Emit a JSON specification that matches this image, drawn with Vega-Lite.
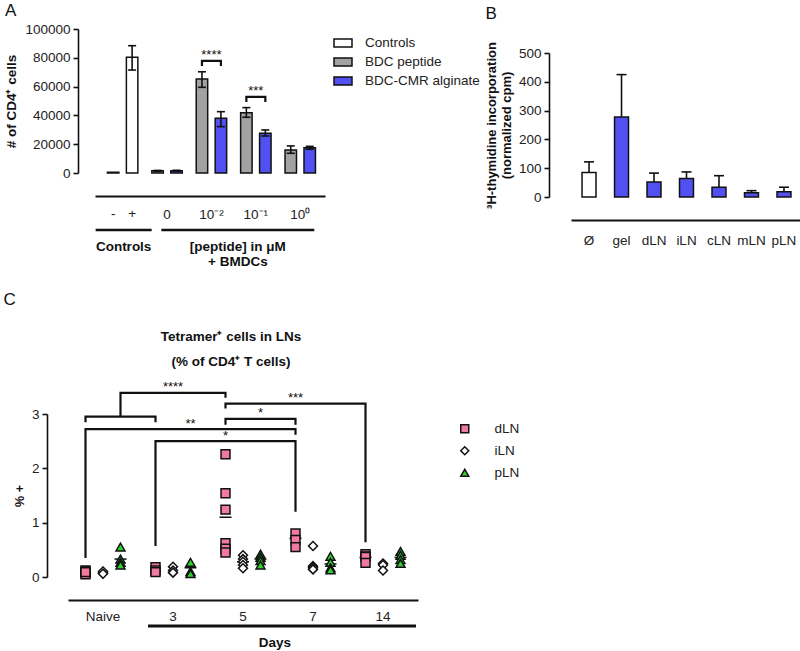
{
  "$schema": "https://vega.github.io/schema/vega-lite/v6.json",
  "padding": {"left": 3, "top": 2, "right": 0, "bottom": 0},
  "background": "white",
  "datasets": {
    "a_bars": [
      {"group": "Controls", "sub": "a", "series": "Controls", "value": 500, "lo": null, "hi": null},
      {"group": "Controls", "sub": "b", "series": "Controls", "value": 80300, "lo": 71500, "hi": 88400},
      {"group": "0", "sub": "a", "series": "BDC peptide", "value": 1500, "lo": 1200, "hi": 1800},
      {"group": "0", "sub": "b", "series": "BDC-CMR alginate", "value": 1600, "lo": 1300, "hi": 1900},
      {"group": "10⁻²", "sub": "a", "series": "BDC peptide", "value": 65300, "lo": 59500, "hi": 70300},
      {"group": "10⁻²", "sub": "b", "series": "BDC-CMR alginate", "value": 38000, "lo": 32200, "hi": 42600},
      {"group": "10⁻¹", "sub": "a", "series": "BDC peptide", "value": 41900, "lo": 38700, "hi": 45400},
      {"group": "10⁻¹", "sub": "b", "series": "BDC-CMR alginate", "value": 27600, "lo": 25700, "hi": 29900},
      {"group": "10⁰", "sub": "a", "series": "BDC peptide", "value": 16000, "lo": 13700, "hi": 18800},
      {"group": "10⁰", "sub": "b", "series": "BDC-CMR alginate", "value": 17500, "lo": 16500, "hi": 18500}
    ],
    "a_brk": [
      {"b": "b1", "ord": 0, "group": "10⁻²", "sub": "a", "y": 74300},
      {"b": "b1", "ord": 1, "group": "10⁻²", "sub": "a", "y": 77800},
      {"b": "b1", "ord": 2, "group": "10⁻²", "sub": "b", "y": 77800},
      {"b": "b1", "ord": 3, "group": "10⁻²", "sub": "b", "y": 74300},
      {"b": "b2", "ord": 0, "group": "10⁻¹", "sub": "a", "y": 49300},
      {"b": "b2", "ord": 1, "group": "10⁻¹", "sub": "a", "y": 52800},
      {"b": "b2", "ord": 2, "group": "10⁻¹", "sub": "b", "y": 52800},
      {"b": "b2", "ord": 3, "group": "10⁻¹", "sub": "b", "y": 49300}
    ],
    "a_stars": [
      {"group": "10⁻²", "t": "****", "y": 79000},
      {"group": "10⁻¹", "t": "***", "y": 54100}
    ],
    "a_pm": [
      {"group": "Controls", "sub": "a", "t": "-"},
      {"group": "Controls", "sub": "b", "t": "+"}
    ],
    "a_ctrl": [{"group": "Controls", "t": "Controls"}],
    "a_pep": [{"group": "10⁻¹", "t": "[peptide] in μM\n+ BMDCs"}],
    "b_bars": [
      {"cat": "Ø", "kind": "none", "value": 85, "hi": 122},
      {"cat": "gel", "kind": "gel", "value": 278, "hi": 425},
      {"cat": "dLN", "kind": "gel", "value": 52, "hi": 83},
      {"cat": "iLN", "kind": "gel", "value": 64, "hi": 87},
      {"cat": "cLN", "kind": "gel", "value": 34, "hi": 74},
      {"cat": "mLN", "kind": "gel", "value": 15, "hi": 22},
      {"cat": "pLN", "kind": "gel", "value": 18, "hi": 34}
    ],
    "c_pts": [
      {"day": "Naive", "ln": "dLN", "v": 0.08}, {"day": "Naive", "ln": "dLN", "v": 0.05}, {"day": "Naive", "ln": "dLN", "v": 0.12}, {"day": "Naive", "ln": "dLN", "v": 0.10}, {"day": "Naive", "ln": "dLN", "v": 0.09},
      {"day": "Naive", "ln": "iLN", "v": 0.09}, {"day": "Naive", "ln": "iLN", "v": 0.07}, {"day": "Naive", "ln": "iLN", "v": 0.10}, {"day": "Naive", "ln": "iLN", "v": 0.06},
      {"day": "Naive", "ln": "pLN", "v": 0.55}, {"day": "Naive", "ln": "pLN", "v": 0.33}, {"day": "Naive", "ln": "pLN", "v": 0.27}, {"day": "Naive", "ln": "pLN", "v": 0.22},
      {"day": "3", "ln": "dLN", "v": 0.18}, {"day": "3", "ln": "dLN", "v": 0.12}, {"day": "3", "ln": "dLN", "v": 0.09},
      {"day": "3", "ln": "iLN", "v": 0.19}, {"day": "3", "ln": "iLN", "v": 0.12}, {"day": "3", "ln": "iLN", "v": 0.08},
      {"day": "3", "ln": "pLN", "v": 0.27}, {"day": "3", "ln": "pLN", "v": 0.10}, {"day": "3", "ln": "pLN", "v": 0.06},
      {"day": "5", "ln": "dLN", "v": 2.26}, {"day": "5", "ln": "dLN", "v": 1.54}, {"day": "5", "ln": "dLN", "v": 1.24}, {"day": "5", "ln": "dLN", "v": 0.62}, {"day": "5", "ln": "dLN", "v": 0.52}, {"day": "5", "ln": "dLN", "v": 0.45},
      {"day": "5", "ln": "iLN", "v": 0.40}, {"day": "5", "ln": "iLN", "v": 0.33}, {"day": "5", "ln": "iLN", "v": 0.28}, {"day": "5", "ln": "iLN", "v": 0.22}, {"day": "5", "ln": "iLN", "v": 0.16},
      {"day": "5", "ln": "pLN", "v": 0.42}, {"day": "5", "ln": "pLN", "v": 0.36}, {"day": "5", "ln": "pLN", "v": 0.30}, {"day": "5", "ln": "pLN", "v": 0.22},
      {"day": "7", "ln": "dLN", "v": 0.80}, {"day": "7", "ln": "dLN", "v": 0.68}, {"day": "7", "ln": "dLN", "v": 0.55},
      {"day": "7", "ln": "iLN", "v": 0.57}, {"day": "7", "ln": "iLN", "v": 0.20}, {"day": "7", "ln": "iLN", "v": 0.17}, {"day": "7", "ln": "iLN", "v": 0.14},
      {"day": "7", "ln": "pLN", "v": 0.38}, {"day": "7", "ln": "pLN", "v": 0.27}, {"day": "7", "ln": "pLN", "v": 0.17}, {"day": "7", "ln": "pLN", "v": 0.13},
      {"day": "14", "ln": "dLN", "v": 0.42}, {"day": "14", "ln": "dLN", "v": 0.38}, {"day": "14", "ln": "dLN", "v": 0.37}, {"day": "14", "ln": "dLN", "v": 0.26},
      {"day": "14", "ln": "iLN", "v": 0.25}, {"day": "14", "ln": "iLN", "v": 0.22}, {"day": "14", "ln": "iLN", "v": 0.12},
      {"day": "14", "ln": "pLN", "v": 0.47}, {"day": "14", "ln": "pLN", "v": 0.40}, {"day": "14", "ln": "pLN", "v": 0.32}, {"day": "14", "ln": "pLN", "v": 0.25}
    ],
    "c_means": [
      {"day": "Naive", "ln": "pLN", "m": 0.33},
      {"day": "3", "ln": "pLN", "m": 0.17},
      {"day": "5", "ln": "dLN", "m": 1.1}, {"day": "5", "ln": "iLN", "m": 0.28}, {"day": "5", "ln": "pLN", "m": 0.33},
      {"day": "7", "ln": "dLN", "m": 0.71}, {"day": "7", "ln": "pLN", "m": 0.24},
      {"day": "14", "ln": "dLN", "m": 0.36}, {"day": "14", "ln": "pLN", "m": 0.36}
    ],
    "c_brk": [
      {"b": "b1", "ord": 0, "day": "Naive", "ln": "dLN", "y": 2.85},
      {"b": "b1", "ord": 1, "day": "Naive", "ln": "dLN", "y": 2.95},
      {"b": "b1", "ord": 2, "day": "3", "ln": "dLN", "y": 2.95},
      {"b": "b1", "ord": 3, "day": "3", "ln": "dLN", "y": 2.85},
      {"b": "b2", "ord": 0, "day": "Naive", "ln": "pLN", "y": 2.95},
      {"b": "b2", "ord": 1, "day": "Naive", "ln": "pLN", "y": 3.39},
      {"b": "b2", "ord": 2, "day": "5", "ln": "dLN", "y": 3.39},
      {"b": "b2", "ord": 3, "day": "5", "ln": "dLN", "y": 3.30},
      {"b": "b3", "ord": 0, "day": "5", "ln": "dLN", "y": 3.10},
      {"b": "b3", "ord": 1, "day": "5", "ln": "dLN", "y": 3.19},
      {"b": "b3", "ord": 2, "day": "14", "ln": "dLN", "y": 3.19},
      {"b": "b3", "ord": 3, "day": "14", "ln": "dLN", "y": 0.64},
      {"b": "b4", "ord": 0, "day": "5", "ln": "dLN", "y": 2.80},
      {"b": "b4", "ord": 1, "day": "5", "ln": "dLN", "y": 2.91},
      {"b": "b4", "ord": 2, "day": "7", "ln": "dLN", "y": 2.91},
      {"b": "b4", "ord": 3, "day": "7", "ln": "dLN", "y": 2.80},
      {"b": "b5", "ord": 0, "day": "Naive", "ln": "dLN", "y": 0.35},
      {"b": "b5", "ord": 1, "day": "Naive", "ln": "dLN", "y": 2.72},
      {"b": "b5", "ord": 2, "day": "7", "ln": "dLN", "y": 2.72},
      {"b": "b5", "ord": 3, "day": "7", "ln": "dLN", "y": 2.62},
      {"b": "b6", "ord": 0, "day": "3", "ln": "dLN", "y": 0.57},
      {"b": "b6", "ord": 1, "day": "3", "ln": "dLN", "y": 2.50},
      {"b": "b6", "ord": 2, "day": "7", "ln": "dLN", "y": 2.50},
      {"b": "b6", "ord": 3, "day": "7", "ln": "dLN", "y": 1.20}
    ],
    "c_stars": [
      {"t": "****", "day": "3", "ln": "iLN", "y": 3.42},
      {"t": "***", "day": "7", "ln": "dLN", "y": 3.22},
      {"t": "*", "day": "5", "ln": "pLN", "y": 2.94},
      {"t": "**", "day": "3", "ln": "pLN", "y": 2.75},
      {"t": "*", "day": "5", "ln": "dLN", "y": 2.53}
    ],
    "c_head": [{"day": "5", "t": "Tetramer⁺ cells in LNs\n(% of CD4⁺ T cells)"}],
    "c_days": [{"day": "7", "t": "Days"}]
  },
  "concat": [
    {
      "concat": [
        {
          "title": {"text": "A", "anchor": "start", "frame": "bounds", "fontSize": 17, "fontWeight": "normal", "offset": 2},
          "width": 247,
          "height": 144,
          "layer": [
            {
              "data": {"name": "a_bars"},
              "mark": {"type": "bar", "stroke": "#111111", "strokeWidth": 1.5},
              "encoding": {
                "x": {"field": "group", "type": "nominal", "sort": null,
                  "scale": {"domain": ["Controls", "0", "10⁻²", "10⁻¹", "10⁰"], "range": [17, 247], "paddingInner": 0.144, "paddingOuter": 0.162, "align": 0.6},
                  "axis": {"offset": 23, "ticks": false, "domainWidth": 2.2, "labelPadding": 11, "labelAngle": 0, "title": null,
                    "labelExpr": "datum.value === 'Controls' ? '' : datum.label"}},
                "xOffset": {"field": "sub", "type": "nominal", "scale": {"domain": ["a", "b"], "paddingInner": 0.395, "paddingOuter": 0.2}},
                "y": {"field": "value", "type": "quantitative", "scale": {"domain": [0, 100000], "nice": false},
                  "axis": {"tickCount": 10, "values": [0, 20000, 40000, 60000, 80000, 100000], "format": "d", "labelOverlap": false, "offset": 0, "title": "# of CD4⁺ cells", "titlePadding": 6, "labelPadding": 3}},
                "fill": {"field": "series", "type": "nominal",
                  "scale": {"domain": ["Controls", "BDC peptide", "BDC-CMR alginate"], "range": ["#ffffff", "#a2a2a2", "#5151f2"]},
                  "legend": {"title": null, "orient": "right", "offset": 4, "symbolType": "M-1,-0.45H1V0.45H-1Z", "symbolSize": 324,
                    "symbolStrokeColor": "#111111", "symbolStrokeWidth": 1.5, "labelFontSize": 13.5, "rowPadding": 1, "labelOffset": 12, "padding": 4}}
              }
            },
            {
              "data": {"name": "a_bars"},
              "mark": {"type": "rule", "color": "#111111", "strokeWidth": 1.6},
              "encoding": {
                "x": {"field": "group", "type": "nominal"},
                "xOffset": {"field": "sub", "type": "nominal"},
                "y": {"field": "lo", "type": "quantitative"},
                "y2": {"field": "hi"}
              }
            },
            {
              "data": {"name": "a_bars"},
              "mark": {"type": "tick", "orient": "horizontal", "size": 8, "thickness": 1.6, "color": "#111111", "opacity": 1},
              "encoding": {
                "x": {"field": "group", "type": "nominal"},
                "xOffset": {"field": "sub", "type": "nominal"},
                "y": {"field": "lo", "type": "quantitative"}
              }
            },
            {
              "data": {"name": "a_bars"},
              "mark": {"type": "tick", "orient": "horizontal", "size": 8, "thickness": 1.6, "color": "#111111", "opacity": 1},
              "encoding": {
                "x": {"field": "group", "type": "nominal"},
                "xOffset": {"field": "sub", "type": "nominal"},
                "y": {"field": "hi", "type": "quantitative"}
              }
            },
            {
              "data": {"name": "a_brk"},
              "mark": {"type": "line", "color": "#111111", "strokeWidth": 2.2, "strokeJoin": "miter"},
              "encoding": {
                "x": {"field": "group", "type": "nominal"},
                "xOffset": {"field": "sub", "type": "nominal"},
                "y": {"field": "y", "type": "quantitative"},
                "detail": {"field": "b"},
                "order": {"field": "ord", "type": "quantitative"}
              }
            },
            {
              "data": {"name": "a_stars"},
              "mark": {"type": "text", "fontSize": 13, "color": "#111111", "baseline": "alphabetic"},
              "encoding": {
                "x": {"field": "group", "type": "nominal"},
                "y": {"field": "y", "type": "quantitative"},
                "text": {"field": "t"}
              }
            },
            {
              "data": {"name": "a_pm"},
              "mark": {"type": "text", "fontSize": 13.5, "color": "#222222", "baseline": "middle"},
              "encoding": {
                "x": {"field": "group", "type": "nominal"},
                "xOffset": {"field": "sub", "type": "nominal"},
                "y": {"datum": -28500, "type": "quantitative"},
                "text": {"field": "t"}
              }
            },
            {
              "data": {"name": "a_ctrl"},
              "mark": {"type": "tick", "orient": "horizontal", "size": 56, "thickness": 2.5, "color": "#111111", "opacity": 1, "xOffset": 1},
              "encoding": {
                "x": {"field": "group", "type": "nominal"},
                "y": {"datum": -39600, "type": "quantitative"}
              }
            },
            {
              "data": {"name": "a_pep"},
              "mark": {"type": "tick", "orient": "horizontal", "size": 153, "thickness": 2.5, "color": "#111111", "opacity": 1, "xOffset": -18},
              "encoding": {
                "x": {"field": "group", "type": "nominal"},
                "y": {"datum": -39600, "type": "quantitative"}
              }
            },
            {
              "data": {"name": "a_ctrl"},
              "mark": {"type": "text", "fontSize": 13.5, "fontWeight": "bold", "color": "#111111", "baseline": "top", "dx": 1},
              "encoding": {
                "x": {"field": "group", "type": "nominal"},
                "y": {"datum": -46500, "type": "quantitative"},
                "text": {"field": "t"}
              }
            },
            {
              "data": {"name": "a_pep"},
              "mark": {"type": "text", "fontSize": 13.5, "fontWeight": "bold", "color": "#111111", "baseline": "top", "lineBreak": "\n", "lineHeight": 15, "dx": -18},
              "encoding": {
                "x": {"field": "group", "type": "nominal"},
                "y": {"datum": -46500, "type": "quantitative"},
                "text": {"field": "t"}
              }
            }
          ]
        },
        {
          "title": {"text": "B", "anchor": "start", "frame": "bounds", "fontSize": 17, "fontWeight": "normal", "offset": 6},
          "width": 231,
          "height": 168,
          "layer": [
            {
              "data": {"name": "b_bars"},
              "mark": {"type": "bar", "stroke": "#111111", "strokeWidth": 1.5},
              "encoding": {
                "x": {"field": "cat", "type": "nominal", "sort": null,
                  "scale": {"domain": ["Ø", "gel", "dLN", "iLN", "cLN", "mLN", "pLN"], "paddingInner": 0.57, "paddingOuter": 0.34},
                  "axis": {"offset": 23, "ticks": false, "labelPadding": 13, "labelAngle": 0, "title": null, "domainWidth": 2.2}},
                "y": {"field": "value", "type": "quantitative", "scale": {"domain": [0, 500], "nice": false, "range": [168, 24]},
                  "axis": {"tickCount": 10, "values": [0, 100, 200, 300, 400, 500], "format": "d", "labelOverlap": false, "offset": 22, "title": ["³H-thymidine incorporation", "(normalized cpm)"], "titleFontSize": 13, "titlePadding": 5, "labelPadding": 3}},
                "fill": {"field": "kind", "type": "nominal", "scale": {"domain": ["none", "gel"], "range": ["#ffffff", "#5151f2"]}, "legend": null}
              }
            },
            {
              "data": {"name": "b_bars"},
              "mark": {"type": "rule", "color": "#111111", "strokeWidth": 1.6},
              "encoding": {
                "x": {"field": "cat", "type": "nominal"},
                "y": {"field": "value", "type": "quantitative"},
                "y2": {"field": "hi"}
              }
            },
            {
              "data": {"name": "b_bars"},
              "mark": {"type": "tick", "orient": "horizontal", "size": 10, "thickness": 1.6, "color": "#111111", "opacity": 1},
              "encoding": {
                "x": {"field": "cat", "type": "nominal"},
                "y": {"field": "hi", "type": "quantitative"}
              }
            }
          ]
        }
      ],
      "columns": 2,
      "spacing": 1,
      "resolve": {"scale": {"fill": "independent", "shape": "independent", "xOffset": "independent"}, "legend": {"fill": "independent", "shape": "independent"}}
    },
    {
      "title": {"text": "C", "anchor": "start", "frame": "bounds", "fontSize": 17, "fontWeight": "normal", "offset": 21, "dx": -10},
      "width": 340,
      "height": 163,
      "layer": [
        {
          "data": {"name": "c_brk"},
          "mark": {"type": "line", "color": "#111111", "strokeWidth": 2.2, "strokeJoin": "miter"},
          "encoding": {
            "x": {"field": "day", "type": "nominal", "sort": null,
              "scale": {"domain": ["Naive", "3", "5", "7", "14"], "range": [-10, 340], "paddingInner": 0, "paddingOuter": 0},
              "axis": {"offset": 23, "ticks": false, "labelPadding": 9, "labelAngle": 0, "title": null, "domainWidth": 1.8}},
            "xOffset": {"field": "ln", "type": "nominal", "scale": {"domain": ["dLN", "iLN", "pLN"], "paddingInner": 0, "paddingOuter": 0.5}},
            "y": {"field": "y", "type": "quantitative", "scale": {"domain": [0, 3], "nice": false},
              "axis": {"tickCount": 10, "values": [0, 1, 2, 3], "format": "d", "labelOverlap": false, "offset": 31, "title": "% +", "titleFontSize": 12.5, "titlePadding": 5, "labelPadding": 3}},
            "detail": {"field": "b"},
            "order": {"field": "ord", "type": "quantitative"}
          }
        },
        {
          "data": {"name": "c_means"},
          "mark": {"type": "tick", "orient": "horizontal", "size": 12, "thickness": 1.5, "color": "#111111", "opacity": 1},
          "encoding": {
            "x": {"field": "day", "type": "nominal"},
            "xOffset": {"field": "ln", "type": "nominal"},
            "y": {"field": "m", "type": "quantitative"}
          }
        },
        {
          "data": {"name": "c_pts"},
          "mark": {"type": "point", "filled": true, "size": 80, "stroke": "#111111", "strokeWidth": 1.5, "opacity": 1},
          "encoding": {
            "x": {"field": "day", "type": "nominal"},
            "xOffset": {"field": "ln", "type": "nominal"},
            "y": {"field": "v", "type": "quantitative"},
            "fill": {"field": "ln", "type": "nominal", "scale": {"domain": ["dLN", "iLN", "pLN"], "range": ["#f27a9f", "#ffffff", "#2fd12f"]},
              "legend": {"title": null, "orient": "right", "offset": 32, "symbolSize": 64, "labelFontSize": 13.5, "rowPadding": 7, "labelOffset": 23, "padding": 8,
                "encode": {"symbols": {"update": {"stroke": {"value": "#111111"}, "strokeWidth": {"value": 1.5}}}}}},
            "shape": {"field": "ln", "type": "nominal", "scale": {"domain": ["dLN", "iLN", "pLN"], "range": ["square", "diamond", "triangle-up"]},
              "legend": {"title": null, "orient": "right", "offset": 32, "symbolSize": 64, "labelFontSize": 13.5, "rowPadding": 7, "labelOffset": 23, "padding": 8,
                "encode": {"symbols": {"update": {"stroke": {"value": "#111111"}, "strokeWidth": {"value": 1.5}}}}}}
          }
        },
        {
          "data": {"name": "c_stars"},
          "mark": {"type": "text", "fontSize": 13, "color": "#111111", "baseline": "alphabetic"},
          "encoding": {
            "x": {"field": "day", "type": "nominal"},
            "xOffset": {"field": "ln", "type": "nominal"},
            "y": {"field": "y", "type": "quantitative"},
            "text": {"field": "t"}
          }
        },
        {
          "data": {"name": "c_head"},
          "mark": {"type": "text", "fontSize": 13.5, "fontWeight": "bold", "color": "#111111", "baseline": "top", "lineBreak": "\n", "lineHeight": 25, "dx": -12},
          "encoding": {
            "x": {"field": "day", "type": "nominal"},
            "y": {"datum": 4.55, "type": "quantitative"},
            "text": {"field": "t"}
          }
        },
        {
          "data": {"name": "c_days"},
          "mark": {"type": "tick", "orient": "horizontal", "size": 268, "thickness": 3, "color": "#111111", "opacity": 1, "xOffset": -31},
          "encoding": {
            "x": {"field": "day", "type": "nominal"},
            "y": {"datum": -0.9, "type": "quantitative"}
          }
        },
        {
          "data": {"name": "c_days"},
          "mark": {"type": "text", "fontSize": 13.5, "fontWeight": "bold", "color": "#111111", "baseline": "middle", "dx": -38},
          "encoding": {
            "x": {"field": "day", "type": "nominal"},
            "y": {"datum": -1.22, "type": "quantitative"},
            "text": {"field": "t"}
          }
        }
      ]
    }
  ],
  "columns": 1,
  "spacing": 21,
  "resolve": {"scale": {"fill": "independent", "shape": "independent", "xOffset": "independent"}, "legend": {"fill": "independent", "shape": "independent"}},
  "config": {
    "font": "Liberation Sans",
    "view": {"stroke": null},
    "axis": {"labelOverlap": false, "domainColor": "#111111", "domainWidth": 1.6, "tickColor": "#111111", "tickWidth": 1.6, "tickSize": 5, "labelColor": "#222222", "labelFontSize": 13.5, "labelFont": "Liberation Sans", "titleFont": "Liberation Sans", "titleFontSize": 13.5, "titleFontWeight": "bold", "titleColor": "#111111", "grid": false},
    "legend": {"labelFontSize": 13.5, "labelColor": "#222222", "labelFont": "Liberation Sans"},
    "title": {"font": "Liberation Sans", "color": "#111111"},
    "text": {"font": "Liberation Sans"}
  }
}
